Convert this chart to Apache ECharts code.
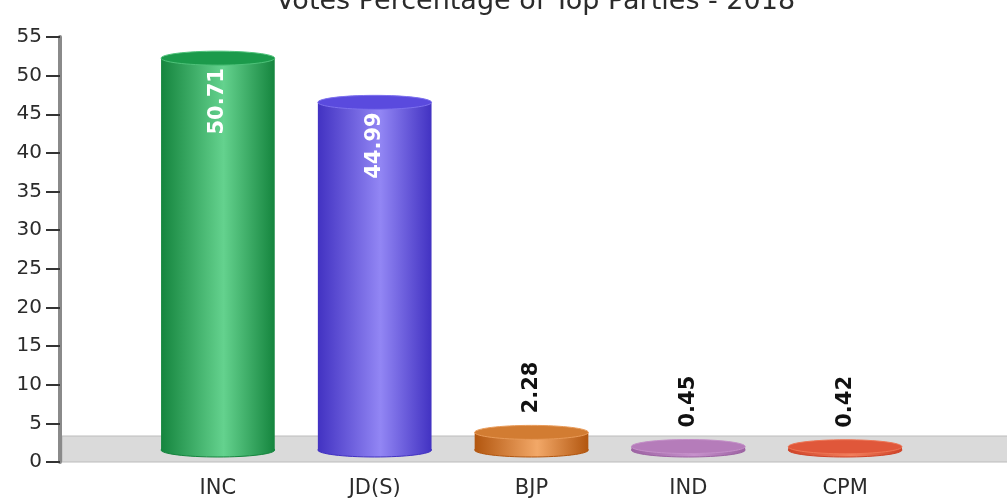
<!DOCTYPE html>
<html><head><meta charset="utf-8">
<script src="https://cdn.jsdelivr.net/npm/echarts@6/dist/echarts.min.js"></script>
<style>html,body{margin:0;padding:0;background:#fff}#c{width:1007px;height:502px}</style>
</head><body><div id="c"></div>
<script>
const titleText = 'Votes Percentage of Top Parties - 2018';
const categories = ['INC', 'JD(S)', 'BJP', 'IND', 'CPM'];
const votes = [50.71, 44.99, 2.28, 0.45, 0.42];
const yMin = 0, yMax = 55, yInterval = 5;

const palette = [
  {dark: '#15853e', light: '#64d28e', top: '#1b9a4b', rim: '#4fc27a'},
  {dark: '#4232c2', light: '#9286f4', top: '#5a4ade', rim: '#7d70ee'},
  {dark: '#b2560f', light: '#f2a868', top: '#d27c32', rim: '#e89a58'},
  {dark: '#9c62a2', light: '#c792cc', top: '#b57cba', rim: '#c48fc8'},
  {dark: '#cf4328', light: '#f2805e', top: '#e0573a', rim: '#ee7656'}
];
const FONT = '"DejaVu Sans", Verdana, sans-serif';

const chart = echarts.init(document.getElementById('c'));

function renderCylinder(params, api) {
  const i = api.value(0), v = api.value(1);
  const base = api.coord([i, 0]);
  const top = api.coord([i, v]);
  const band = api.size([1, 0])[0];
  const w = band * 0.725, rx = w / 2, ry = 7, cx = base[0];
  const c = palette[i];
  const grad = new echarts.graphic.LinearGradient(0, 0, 1, 0, [
    {offset: 0, color: c.dark}, {offset: 0.55, color: c.light}, {offset: 1, color: c.dark}
  ]);
  const inside = v > 20;
  return {
    type: 'group',
    children: [
      {type: 'ellipse', shape: {cx: cx, cy: base[1], rx: rx, ry: ry}, style: {fill: grad, stroke: c.dark, lineWidth: 1}},
      {type: 'rect', shape: {x: cx - rx, y: top[1], width: w, height: base[1] - top[1]}, style: {fill: grad}},
      {type: 'ellipse', shape: {cx: cx, cy: top[1], rx: rx, ry: ry}, style: {fill: c.top, stroke: c.rim, lineWidth: 1}},
      {type: 'text', x: cx, y: inside ? top[1] + 10 : top[1] - 19, rotation: Math.PI / 2,
        style: {text: v.toFixed(2), fill: inside ? '#ffffff' : '#111111',
          font: 'bold 21px ' + FONT, align: inside ? 'right' : 'left', verticalAlign: 'middle'}}
    ]
  };
}

function renderFloor(params, api) {
  const cs = params.coordSys;
  const y0 = api.coord([0, 0])[1];
  return {
    type: 'rect',
    shape: {x: cs.x + 2, y: y0 - 26, width: cs.width, height: 26},
    style: {fill: '#dadada', stroke: '#bcbcbc', lineWidth: 1}
  };
}

chart.setOption({
  animation: false,
  title: {
    text: titleText, left: 276, top: -12, padding: 0,
    textStyle: {fontSize: 27, fontWeight: 'normal', color: '#2b2b2b', fontFamily: FONT}
  },
  grid: [
    {left: 139.5, right: 83.5, top: 25, bottom: 52},
    {left: 60, right: 0, top: 37, bottom: 40}
  ],
  xAxis: [
    {type: 'category', gridIndex: 0, data: categories, offset: 12,
      axisLine: {show: false},
      axisTick: {show: true, alignWithLabel: true, length: 6, lineStyle: {color: '#333', width: 2}},
      axisLabel: {fontSize: 21, color: '#2b2b2b', margin: 16, fontFamily: FONT}},
    {type: 'value', gridIndex: 1, min: 0, max: 1, show: false}
  ],
  yAxis: [
    {type: 'value', gridIndex: 0, min: yMin, max: yMax, interval: yInterval, show: false},
    {type: 'value', gridIndex: 1, min: yMin, max: yMax, interval: yInterval, z: 5,
      splitLine: {show: false},
      axisLine: {show: true, lineStyle: {color: '#8a8a8a', width: 4}},
      axisTick: {show: true, length: 14, lineStyle: {color: '#333', width: 2}},
      axisLabel: {fontSize: 20, color: '#2b2b2b', margin: 18, fontFamily: FONT}}
  ],
  series: [
    {type: 'custom', xAxisIndex: 1, yAxisIndex: 1, z: 1, silent: true,
      data: [[0.5, 0]], renderItem: renderFloor},
    {type: 'custom', xAxisIndex: 0, yAxisIndex: 0, z: 3,
      encode: {x: 0, y: 1},
      data: votes.map(function (v, i) { return [i, v]; }),
      renderItem: renderCylinder}
  ]
});
</script></body></html>
